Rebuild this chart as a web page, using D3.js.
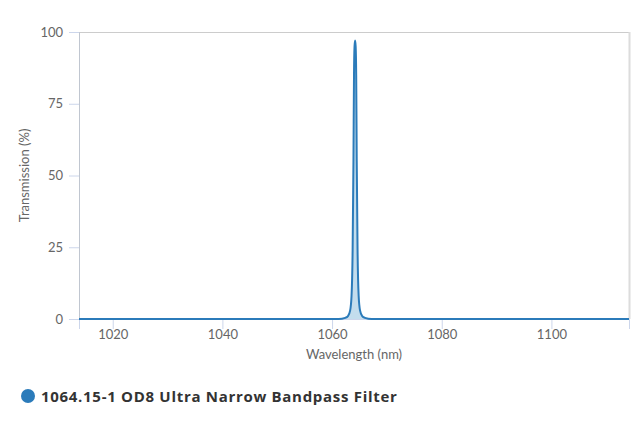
<!DOCTYPE html>
<html><head><meta charset="utf-8">
<script src="https://cdn.jsdelivr.net/npm/d3@7"></script>
<style>body{margin:0;background:#fff}svg{display:block}</style>
</head><body>
<svg id="c" width="640" height="427"></svg>
<script>
const seriesName = "1064.15-1 OD8 Ultra Narrow Bandpass Filter";
const wavelength = [1013.85, 1060, 1061.2, 1062.4, 1062.9, 1063.3, 1063.55, 1063.75, 1063.9, 1064.0, 1064.1, 1064.2, 1064.3, 1064.4, 1064.5, 1064.65, 1064.85, 1065.1, 1065.5, 1066.0, 1067.2, 1068.5, 1114.15];
const transmission = [0, 0, 0, 0.4, 1.0, 3.0, 8.0, 24, 55, 85, 95, 97, 95, 85, 55, 24, 8.0, 3.0, 1.0, 0.4, 0, 0, 0];
const xTicks = [1020, 1040, 1060, 1080, 1100];
const yTicks = [0, 25, 50, 75, 100];

const svg = d3.select("#c");
const L = 79, R = 629, T = 32, B = 319;
const x = d3.scaleLinear().domain([1013.85, 1114.15]).range([L, R]);
const y = d3.scaleLinear().domain([0, 100]).range([B, T]);
const data = wavelength.map((w, i) => ({w, t: transmission[i]}));
const font = "Lato, 'Open Sans', sans-serif";

// plot border
svg.append("line").attr("x1", L).attr("x2", R).attr("y1", T + 0.5).attr("y2", T + 0.5).attr("stroke", "#cccccc");
svg.append("line").attr("x1", R + 0.5).attr("x2", R + 0.5).attr("y1", T).attr("y2", B).attr("stroke", "#dcdcdc").attr("stroke-width", 2);

// y axis
const ya = svg.append("g").attr("transform", `translate(${L},0)`)
  .call(d3.axisLeft(y).tickValues(yTicks).tickSize(10).tickPadding(6));
ya.select(".domain").attr("stroke", "#c0c6d0").attr("stroke-width", 1);
ya.selectAll(".tick line").attr("stroke", "#ccd6eb");
ya.selectAll("text").attr("fill", "#666").style("font", `13px ${font}`);

// x axis
const xa = svg.append("g").attr("transform", `translate(0,${B})`)
  .call(d3.axisBottom(x).tickValues(xTicks).tickSize(10).tickPadding(1).tickFormat(d3.format("d")));
xa.select(".domain").attr("stroke", "#ccd6eb");
xa.selectAll(".tick line").attr("stroke", "#ccd6eb");
xa.selectAll("text").attr("fill", "#666").style("font", `13px ${font}`);

// area + line
const curve = d3.curveMonotoneX;
svg.append("path").datum(data)
  .attr("d", d3.area().x(d => x(d.w)).y0(y(0)).y1(d => y(d.t)).curve(curve))
  .attr("fill", "#b9d7ea").attr("fill-opacity", 0.85);
svg.append("path").datum(data)
  .attr("d", d3.line().x(d => x(d.w)).y(d => y(d.t)).curve(curve))
  .attr("fill", "none").attr("stroke", "#2b7bba").attr("stroke-width", 2);

// axis titles
svg.append("text").attr("x", (L + R) / 2).attr("y", 359).attr("text-anchor", "middle")
  .attr("fill", "#666").style("font", `13px ${font}`).text("Wavelength (nm)");
svg.append("text").attr("transform", `translate(29,${(T + B) / 2}) rotate(-90)`).attr("text-anchor", "middle")
  .attr("fill", "#666").style("font", `13px ${font}`).text("Transmission (%)");

// legend
svg.append("circle").attr("cx", 28).attr("cy", 396).attr("r", 7).attr("fill", "#2b7bba");
svg.append("text").attr("x", 41).attr("y", 402).attr("fill", "#333")
  .style("font", `bold 15px 'Open Sans', sans-serif`).style("letter-spacing", "0.7px").text(seriesName);
</script>
</body></html>
